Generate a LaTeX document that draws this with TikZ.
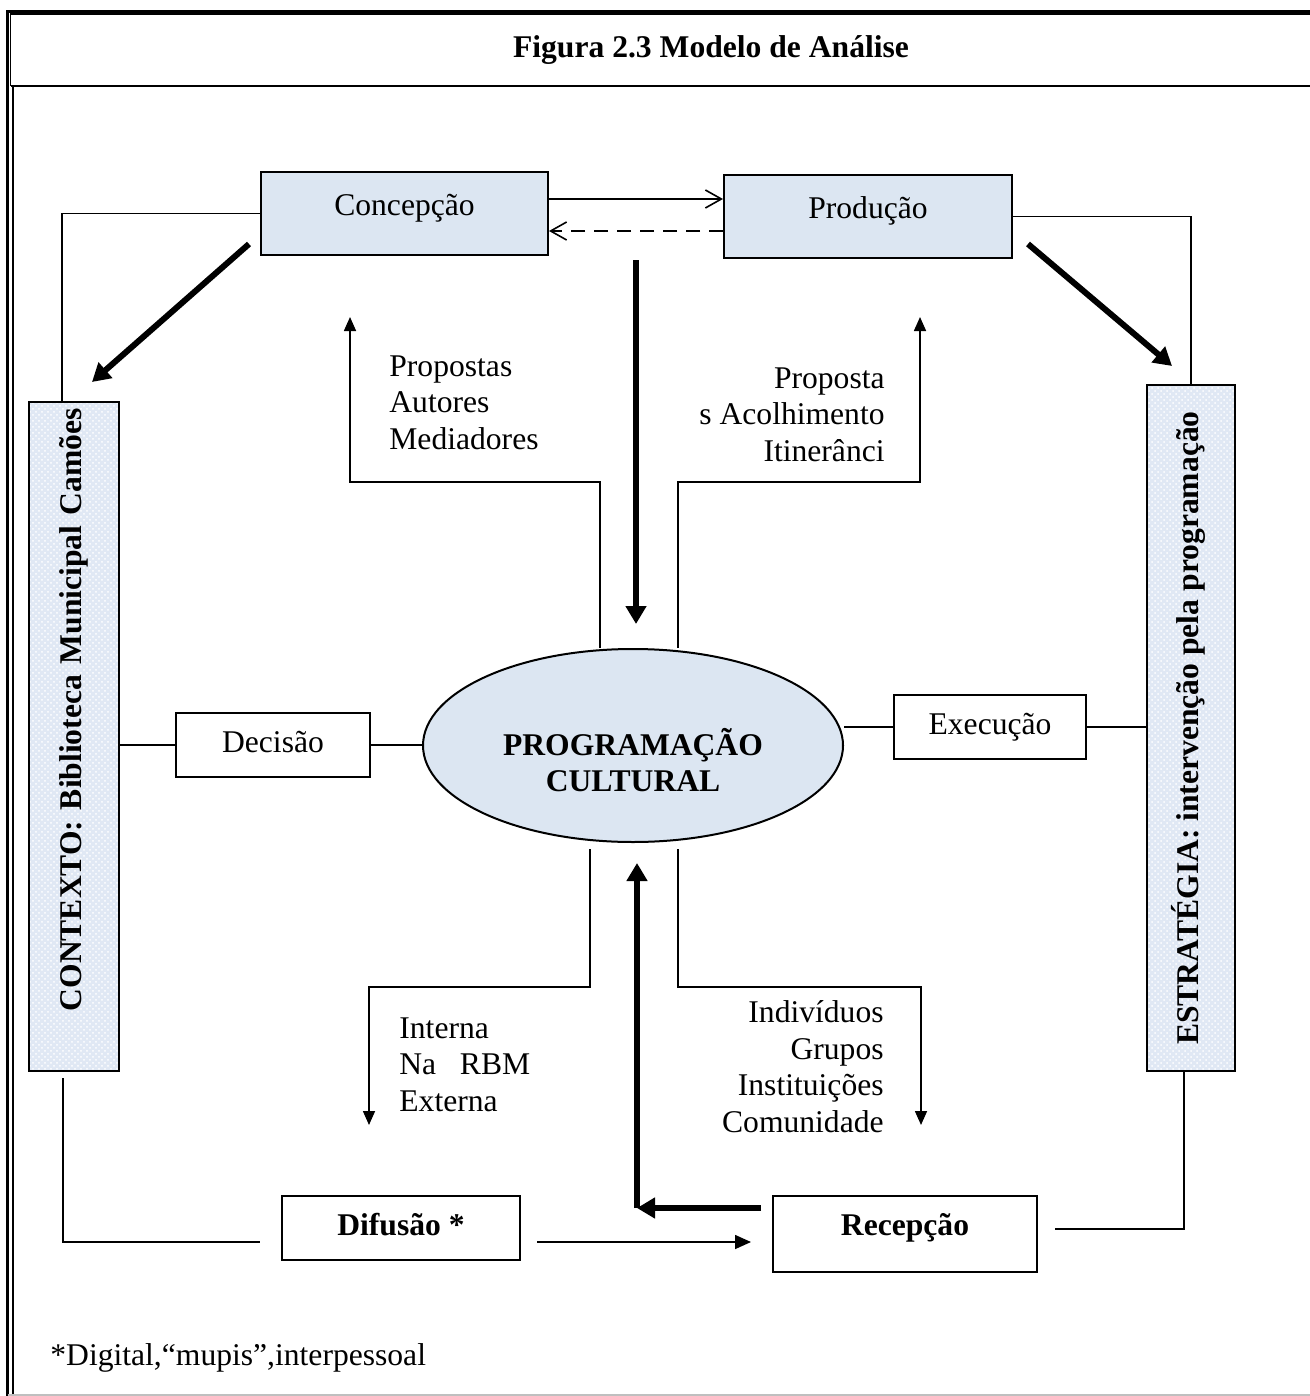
\documentclass[tikz,border=0pt]{standalone}
\usepackage{fontspec}
\setmainfont{Liberation Serif}
\usepackage{xcolor}
\usepackage{tikz}
\usetikzlibrary{arrows.meta,shapes.geometric,patterns}

\definecolor{boxblue}{HTML}{DCE6F2}
\definecolor{dotblue}{HTML}{E0E8F4}
\newcommand{\diagfont}{\fontsize{15.8pt}{18.35pt}\selectfont}

\tikzset{
    every node/.style={font=\diagfont},
    box/.style={draw, line width=1pt, inner sep=0pt, text height=10.8pt, text depth=3.4pt},
    bluebox/.style={box, fill=boxblue, text depth=9pt},
    sidebox/.style={box, rotate=90, preaction={fill=dotblue}, pattern=crosshatch dots, pattern color=white, font=\diagfont\bfseries},
    link/.style={line width=0.8pt},
    tri/.style={link, -{Triangle[length=7pt,width=6pt]}},
    barb/.style={link, -{Straight Barb[length=8pt,width=9pt]}},
    bigarrow/.style={line width=3pt, -{Triangle[length=9pt,width=10pt]}}
}

\begin{document}
\begin{tikzpicture}[x=0.5pt, y=-0.5pt]
                        \useasboundingbox (0,0) rectangle (1310,1396);

                        \draw[line width=1.5pt] (7.5,1396) -- (7.5,11.5) -- (1310,11.5);
                        \draw[line width=0.6pt] (10.5,86) -- (10.5,14) -- (1310,14);
                        \draw[line width=1.2pt] (10.5,86) -- (1310,86);
                        \draw[line width=0.75pt] (13,86) -- (13,1396);
                        \draw[gray!50, line width=1pt] (7.5,1395) -- (1310,1395);

                        \node (titulo) at (711,58) [anchor=base, font=\diagfont\bfseries] {Figura 2.3 Modelo de Análise};

                        \node (concepcao) at (404.5,213.5) [bluebox, minimum width=143.5pt, minimum height=41.5pt] {Concepção};
                        \node (producao) at (868,216.5) [bluebox, minimum width=144pt, minimum height=41.5pt] {Produção};
                        \node (contexto) at (74,736.5) [sidebox, minimum width=334.5pt, minimum height=45pt, inner xsep=3pt, text width=328.5pt, align=right] {CONTEXTO: Biblioteca Municipal Camões};
                        \node (estrategia) at (1191,728) [sidebox, minimum width=343pt, minimum height=44pt] {ESTRATÉGIA: intervenção pela programação};
                        \node (prog) at (633,745.5) [ellipse, draw, line width=1pt, fill=boxblue, minimum width=210pt, minimum height=96.5pt, inner sep=0pt, align=center, font=\diagfont\bfseries] {\rule{0pt}{28pt}PROGRAMAÇÃO\\CULTURAL};
                        \node (decisao) at (273,745) [box, minimum width=97pt, minimum height=32pt] {Decisão};
                        \node (execucao) at (990,727) [box, minimum width=96pt, minimum height=32pt] {Execução};
                        \node (difusao) at (401,1228) [box, minimum width=119pt, minimum height=32pt, font=\diagfont\bfseries] {Difusão *};
                        \node (recepcao) at (905,1234) [box, minimum width=132pt, minimum height=38pt, text depth=9pt, font=\diagfont\bfseries] {Recepção};

                        \node (propL) at (389,355) [anchor=north west, align=left, inner sep=0pt] {Propostas\\Autores\\Mediadores};
                        \node (propR) at (885,367) [anchor=north east, align=right, inner sep=0pt] {Proposta\\s Acolhimento\\Itinerânci};
                        \node (difL) at (399,1017) [anchor=north west, align=left, inner sep=0pt] {Interna\\Na\ \ \ RBM\\Externa};
                        \node (recR) at (884,1000) [anchor=north east, align=right, inner sep=0pt] {Indivíduos\\Grupos\\Instituições\\Comunidade};
                        \node (nota) at (50,1365) [anchor=base west, inner sep=0pt] {*Digital,“mupis”,interpessoal};

                        \coordinate (upL) at (350,317);
                        \coordinate (upR) at (920,317);
                        \coordinate (dnL) at (369,1125);
                        \coordinate (dnR) at (921,1125);
                        \coordinate (entrada) at (636,260);
                        \coordinate (canto) at (637,1208);

                        \draw[link] (concepcao.west) -| ([xshift=-6pt]contexto.east);
                        \draw[link] (producao.east) -| (estrategia.east);
                        \draw[link] ([xshift=-5.5pt,yshift=-3pt]contexto.west) |- ([xshift=-10.5pt,yshift=-7pt]difusao.west);
                        \draw[link] ([xshift=8.5pt,yshift=2.5pt]recepcao.east) -| ([xshift=-3.5pt]estrategia.west);
                        \draw[link] (decisao.west -| contexto.south) -- (decisao.west);
                        \draw[link] (decisao.east) -- (decisao.east -| prog.west);
                        \draw[link] (execucao.west) -- (execucao.west -| prog.east);
                        \draw[link] (execucao.east) -- (execucao.east -| estrategia.north);

                        \draw[barb] ([yshift=7.25pt]concepcao.east) -- ([yshift=8.75pt]producao.west);
                        \draw[barb, dash pattern=on 7pt off 4.5pt] ([yshift=-7.25pt]producao.west) -- ([yshift=-8.75pt]concepcao.east);

                        \draw[bigarrow] ([shift={(-5.5pt,6pt)}]concepcao.south west) -- ([shift={(32pt,9.5pt)}]contexto.north east);
                        \draw[bigarrow] ([shift={(7.5pt,7.5pt)}]producao.south east) -- ([shift={(13pt,9pt)}]estrategia.north east);
                        \draw[bigarrow, shorten >=12pt] (entrada) -- (entrada |- prog.north);
                        \draw[bigarrow] ([xshift=-5.5pt,yshift=13pt]recepcao.west) -- (canto);
                        \draw[bigarrow, shorten >=10pt] (canto) -- (canto |- prog.south);

                        \draw[tri] ([xshift=-16.5pt]prog.north) |- ++(-250,-166) -- (upL);
                        \draw[tri] ([xshift=22.5pt]prog.north) |- ++(242,-166) -- (upR);
                        \draw[tri] ([xshift=-21.5pt,yshift=-3pt]prog.south) |- ++(-221,138) -- (dnL);
                        \draw[tri] ([xshift=22.5pt,yshift=-3pt]prog.south) |- ++(243,138) -- (dnR);

                        \draw[link, -{Triangle[length=8pt,width=7pt]}] ([xshift=8pt,yshift=-7pt]difusao.east) -- ([xshift=-10.5pt,yshift=-4pt]recepcao.west);
                    \end{tikzpicture}
\end{document}
